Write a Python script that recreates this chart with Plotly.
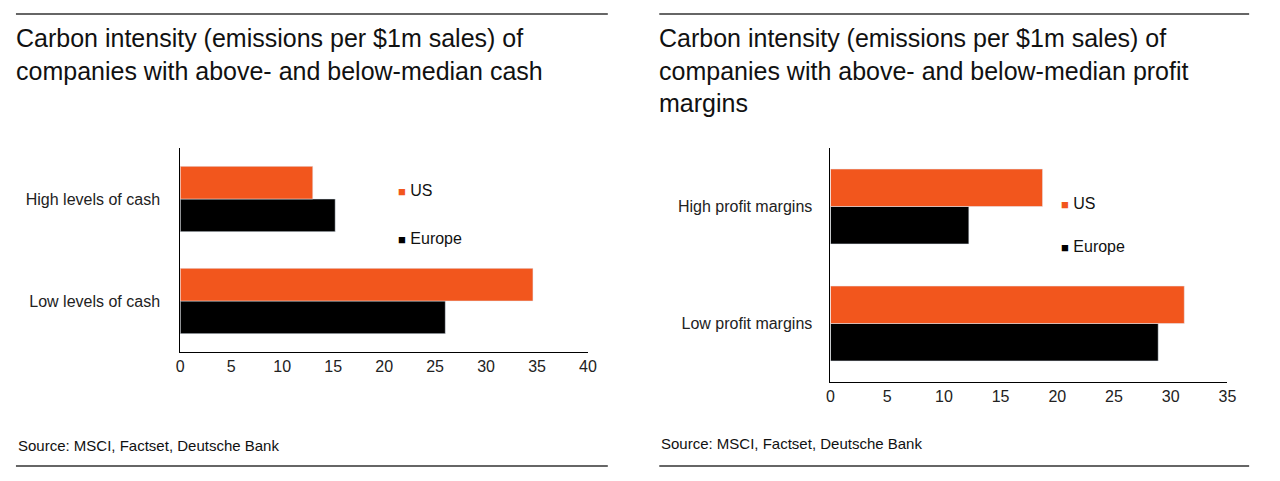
import plotly.graph_objects as go

cats_l = ["Low levels of cash", "High levels of cash"]
us_l = [34.6, 13.0]
eu_l = [26.0, 15.2]

cats_r = ["Low profit margins", "High profit margins"]
us_r = [31.2, 18.7]
eu_r = [28.9, 12.2]

ticks_l = [0, 5, 10, 15, 20, 25, 30, 35, 40]
ticks_r = [0, 5, 10, 15, 20, 25, 30, 35]

US_COL = "#f2561d"
EU_COL = "#000000"
FONT = "Liberation Sans"

# page body has an 8px margin, so map screen pixels onto the paper
W, H, OFF = 1264, 465, 8
def px(x):
    return (x - OFF) / W
def py(y):
    return 1 - (y - OFF) / H

fig = go.Figure()
fig.add_trace(go.Bar(y=cats_l, x=eu_l, orientation="h", marker_color=EU_COL, xaxis="x", yaxis="y"))
fig.add_trace(go.Bar(y=cats_l, x=us_l, orientation="h", marker_color=US_COL, xaxis="x", yaxis="y"))
fig.add_trace(go.Bar(y=cats_r, x=eu_r, orientation="h", marker_color=EU_COL, xaxis="x2", yaxis="y2"))
fig.add_trace(go.Bar(y=cats_r, x=us_r, orientation="h", marker_color=US_COL, xaxis="x2", yaxis="y2"))

ax = dict(showgrid=False, zeroline=False, showline=True, linecolor="black", linewidth=1,
          tickfont=dict(size=16, color="#222"))
fig.update_layout(
    width=W, height=H, margin=dict(l=0, r=0, t=0, b=0),
    plot_bgcolor="white", paper_bgcolor="white", showlegend=False,
    barmode="group", bargap=0.36, bargroupgap=0,
    font=dict(family=FONT, color="#222"),
    xaxis=dict(domain=[px(178), px(590)], range=[0, 40], tickvals=ticks_l, anchor="y", **ax),
    yaxis=dict(domain=[py(352), py(148)], anchor="x", ticks="", ticklabelstandoff=16, **ax),
    xaxis2=dict(domain=[px(835), px(1236)], range=[0, 35], tickvals=ticks_r, anchor="y2", **ax),
    yaxis2=dict(domain=[py(382), py(148)], anchor="x2", ticks="", ticklabelstandoff=14, **ax),
)

shapes = []
for x0, x1 in [(12, 610), (662, 1258)]:
    for yy in [14, 466]:
        shapes.append(dict(type="line", xref="paper", yref="paper", x0=px(x0), x1=px(x1),
                           y0=py(yy), y1=py(yy), line=dict(color="#333", width=1.5)))
fig.update_layout(shapes=shapes)

ann = []
def txt(x, y, t, size):
    ann.append(dict(xref="paper", yref="paper", x=px(x), y=py(y), text=t, showarrow=False,
                    xanchor="left", yanchor="top", align="left", font=dict(size=size, color="#111")))
txt(10, 22, "Carbon intensity (emissions per $1m sales) of<br>companies with above- and below-median cash", 25)
txt(660, 22, "Carbon intensity (emissions per $1m sales) of<br>companies with above- and below-median profit<br>margins", 25)
txt(12, 435, "Source: MSCI, Factset, Deutsche Bank", 15)
txt(662, 433, "Source: MSCI, Factset, Deutsche Bank", 15)
for x, y, lab in [(396, 180, "US"), (396, 228, "Europe"), (1066, 193, "US"), (1066, 236, "Europe")]:
    col = US_COL if lab == "US" else EU_COL
    txt(x, y, f"<span style='color:{col};font-size:13px'>■</span> {lab}", 16)
fig.update_layout(annotations=ann)

fig.write_html("out.html")
